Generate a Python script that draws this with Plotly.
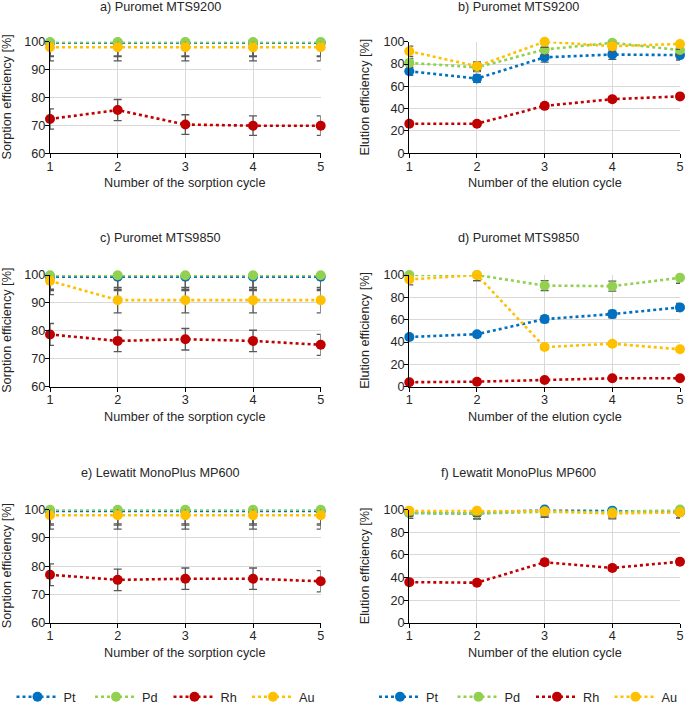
import plotly.graph_objects as go

W, H = 685, 704

cycles = [1, 2, 3, 4, 5]
metals = ["Pt", "Pd", "Rh", "Au"]
colors = {"Pt": "#0070C0", "Pd": "#92D050", "Rh": "#C00000", "Au": "#FFC000"}

# a) Puromet MTS9200 - sorption
a_Pt = [99.6, 99.6, 99.6, 99.6, 99.6]
a_Pd = [99.9, 99.9, 99.9, 99.9, 99.9]
a_Rh = [72.3, 75.5, 70.3, 69.9, 69.9]
a_Au = [98.0, 98.0, 98.0, 98.0, 98.0]
# b) Puromet MTS9200 - elution
b_Pt = [73.5, 67.0, 86.0, 88.5, 88.0]
b_Pd = [81.0, 77.0, 93.0, 99.0, 92.5]
b_Rh = [26.5, 26.5, 42.5, 48.5, 51.0]
b_Au = [91.5, 78.0, 100.0, 96.0, 98.0]
# c) Puromet MTS9850 - sorption
c_Pt = [99.4, 99.4, 99.4, 99.4, 99.4]
c_Pd = [99.9, 99.9, 99.9, 99.9, 99.9]
c_Rh = [78.7, 76.4, 77.0, 76.4, 75.0]
c_Au = [97.9, 91.0, 91.0, 91.0, 91.0]
# d) Puromet MTS9850 - elution
d_Pt = [44.5, 47.0, 60.5, 65.0, 71.0]
d_Pd = [100.0, 100.0, 90.5, 90.0, 97.5]
d_Rh = [4.0, 4.5, 6.0, 7.5, 7.5]
d_Au = [96.0, 100.0, 35.5, 38.5, 33.5]
# e) Lewatit MonoPlus MP600 - sorption
e_Pt = [99.5, 99.5, 99.5, 99.5, 99.5]
e_Pd = [99.9, 99.9, 99.9, 99.9, 99.9]
e_Rh = [77.0, 75.2, 75.6, 75.6, 74.7]
e_Au = [98.0, 98.0, 98.0, 98.0, 98.0]
# f) Lewatit MonoPlus MP600 - elution
f_Pt = [97.0, 96.5, 100.0, 99.0, 97.5]
f_Pd = [97.0, 96.5, 98.0, 97.5, 100.0]
f_Rh = [36.0, 35.5, 53.5, 48.5, 54.0]
f_Au = [99.0, 99.0, 98.5, 96.5, 97.5]

error_percent = 5

FONT = "Liberation Sans, Arial, sans-serif"
TXT = "#262626"
FS = 12.7

# pixel layout of plot areas (window coordinates)
XL = (50, 320.7)
XR = (409.3, 680)
ROWS = [(41.7, 153.3), (275, 386.7), (509.5, 623)]

panels = [
    ("a) Puromet MTS9200", "sorption", dict(Pt=a_Pt, Pd=a_Pd, Rh=a_Rh, Au=a_Au), 0, 0),
    ("b) Puromet MTS9200", "elution", dict(Pt=b_Pt, Pd=b_Pd, Rh=b_Rh, Au=b_Au), 0, 1),
    ("c) Puromet MTS9850", "sorption", dict(Pt=c_Pt, Pd=c_Pd, Rh=c_Rh, Au=c_Au), 1, 0),
    ("d) Puromet MTS9850", "elution", dict(Pt=d_Pt, Pd=d_Pd, Rh=d_Rh, Au=d_Au), 1, 1),
    ("e) Lewatit MonoPlus MP600", "sorption", dict(Pt=e_Pt, Pd=e_Pd, Rh=e_Rh, Au=e_Au), 2, 0),
    ("f) Lewatit MonoPlus MP600", "elution", dict(Pt=f_Pt, Pd=f_Pd, Rh=f_Rh, Au=f_Au), 2, 1),
]

fig = go.Figure()
annotations = []

def px_x(p):
    return p / W

def px_y(p):
    return 1 - p / H

for i, (title, kind, data, row, col) in enumerate(panels):
    n = i + 1
    xa = "x" if n == 1 else f"x{n}"
    ya = "y" if n == 1 else f"y{n}"
    xr = XL if col == 0 else XR
    yr = ROWS[row]
    is_last_row = row == 2
    for m in metals:
        fig.add_trace(go.Scatter(
            x=cycles, y=data[m], name=m, xaxis=xa, yaxis=ya,
            mode="lines+markers",
            line=dict(color=colors[m], width=2.6, dash="dot"),
            marker=dict(color=colors[m], size=10),
            error_y=dict(type="percent", value=error_percent, color="#595959",
                         thickness=1.3, width=4),
            cliponaxis=False,
            showlegend=is_last_row,
            legend="legend" if col == 0 else "legend2",
        ))
    if kind == "sorption":
        yrange, dtick = [60, 100], 10
        ytitle, xtitle = "Sorption efficiency [%]", "Number of the sorption cycle"
    else:
        yrange, dtick = [0, 100], 20
        ytitle, xtitle = "Elution efficiency [%]", "Number of the elution cycle"
    axx = dict(domain=[px_x(xr[0]), px_x(xr[1])], anchor=ya, range=[1, 5],
               tickvals=cycles, showgrid=True, gridcolor="#D9D9D9", gridwidth=1,
               showline=True, linecolor="#000000", linewidth=1.3,
               ticks="outside", ticklen=4, tickcolor="#000000",
               ticklabelstandoff=-3,
               tickfont=dict(family=FONT, size=FS, color=TXT), zeroline=False,
               automargin=False)
    axy = dict(domain=[px_y(yr[1]), px_y(yr[0])], anchor=xa, range=yrange,
               dtick=dtick, showgrid=True, gridcolor="#D9D9D9", gridwidth=1,
               showline=True, linecolor="#000000", linewidth=1.3,
               ticks="outside", ticklen=4, tickcolor="#000000",
               ticklabelstandoff=-3,
               tickfont=dict(family=FONT, size=FS, color=TXT), zeroline=False,
               automargin=False)
    fig.update_layout(**{("xaxis" if n == 1 else f"xaxis{n}"): axx,
                         ("yaxis" if n == 1 else f"yaxis{n}"): axy})
    # titles
    title_y = [6.5, 238, 473][row]
    title_x = 160 if col == 0 else 518
    annotations.append(dict(text=title, x=px_x(title_x), y=px_y(title_y), xref="paper", yref="paper",
                            showarrow=False, xanchor="center", yanchor="middle",
                            font=dict(family=FONT, size=FS, color=TXT)))
    annotations.append(dict(text=xtitle, x=px_x((xr[0] + xr[1]) / 2), y=px_y(yr[1] + 30),
                            xref="paper", yref="paper", showarrow=False,
                            xanchor="center", yanchor="middle",
                            font=dict(family=FONT, size=FS, color=TXT)))
    ytx = 7 if col == 0 else 365
    annotations.append(dict(text=ytitle, x=px_x(ytx), y=px_y((yr[0] + yr[1]) / 2),
                            xref="paper", yref="paper", showarrow=False, textangle=-90,
                            xanchor="center", yanchor="middle",
                            font=dict(family=FONT, size=FS, color=TXT)))

legend_common = dict(orientation="h", yanchor="middle", xanchor="left",
                     y=px_y(697), font=dict(family=FONT, size=FS, color=TXT),
                     entrywidth=21.5, entrywidthmode="pixels", itemwidth=42,
                     bgcolor="rgba(0,0,0,0)", tracegroupgap=0)

fig.update_layout(
    width=W, height=H,
    margin=dict(l=0, r=0, t=0, b=0, pad=0, autoexpand=False),
    paper_bgcolor="white", plot_bgcolor="white",
    font=dict(family=FONT, size=FS, color=TXT),
    annotations=annotations,
    legend=dict(x=px_x(11.5), **legend_common),
    legend2=dict(x=px_x(374), **legend_common),
)

fig.write_html("out.html", config={"displayModeBar": False},
               post_script="document.body.style.margin='0';document.body.style.overflow='hidden';")
